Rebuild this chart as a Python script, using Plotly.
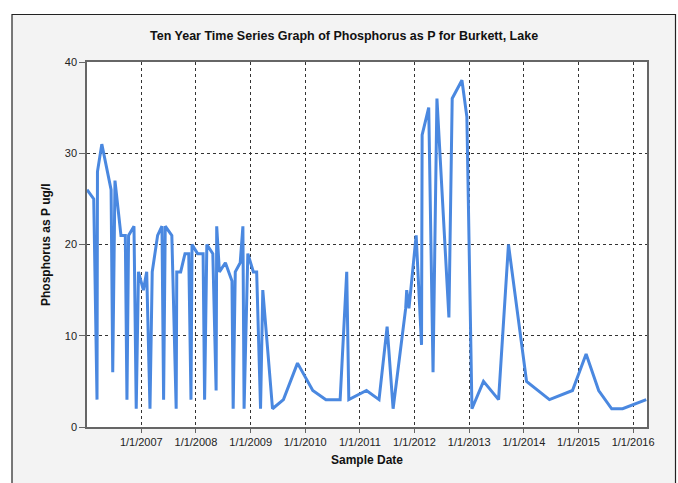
import plotly.graph_objects as go

dates = [
    "2006-01-03", "2006-02-17", "2006-03-11", "2006-03-14", "2006-04-12", "2006-06-13",
    "2006-06-24", "2006-07-09", "2006-08-18", "2006-09-16", "2006-09-27", "2006-10-08",
    "2006-11-13", "2006-11-28", "2006-12-13", "2007-01-15", "2007-02-06", "2007-02-28",
    "2007-03-15", "2007-04-20", "2007-05-19", "2007-05-30", "2007-06-10", "2007-07-24",
    "2007-08-22", "2007-08-26", "2007-09-21", "2007-10-20", "2007-11-14", "2007-11-29",
    "2007-12-06", "2008-01-12", "2008-02-18", "2008-02-28", "2008-03-14", "2008-04-23",
    "2008-05-15", "2008-05-19", "2008-06-06", "2008-07-16", "2008-08-29", "2008-09-06",
    "2008-09-20", "2008-10-23", "2008-11-10", "2008-11-18", "2008-12-13", "2009-01-19",
    "2009-02-10", "2009-03-08", "2009-03-23", "2009-05-27", "2009-08-08", "2009-11-10",
    "2010-02-20", "2010-05-19", "2010-08-22", "2010-10-05", "2010-10-19", "2011-02-14",
    "2011-05-09", "2011-07-02", "2011-08-11", "2011-11-03", "2011-11-10", "2011-11-25",
    "2012-01-12", "2012-02-17", "2012-02-21", "2012-04-05", "2012-05-04", "2012-05-30",
    "2012-08-18", "2012-09-09", "2012-11-13", "2012-12-16", "2013-01-19", "2013-04-06",
    "2013-07-16", "2013-09-20", "2014-01-19", "2014-06-21", "2014-11-22", "2015-02-21",
    "2015-05-16", "2015-08-11", "2015-10-23", "2016-03-29",
]
phosphorus = [
    26, 25, 3, 28, 31, 26,
    6, 27, 21, 21, 3, 21,
    22, 2, 17, 15, 17, 2,
    17, 21, 22, 3, 22, 21,
    2, 17, 17, 19, 19, 3,
    20, 19, 19, 3, 20, 19,
    4, 22, 17, 18, 16, 2,
    17, 18, 22, 2, 19, 17,
    17, 2, 15, 2, 3, 7,
    4, 3, 3, 17, 3, 4,
    3, 11, 2, 13, 15, 13,
    21, 9, 32, 35, 6, 36,
    12, 36, 38, 34, 2, 5,
    3, 20, 5, 3, 4, 8,
    4, 2, 2, 3,
]
tick_dates = ["2007-01-01", "2008-01-01", "2009-01-01", "2010-01-01", "2011-01-01",
              "2012-01-01", "2013-01-01", "2014-01-01", "2015-01-01", "2016-01-01"]
tick_labels = ["1/1/2007", "1/1/2008", "1/1/2009", "1/1/2010", "1/1/2011",
               "1/1/2012", "1/1/2013", "1/1/2014", "1/1/2015", "1/1/2016"]
y_ticks = [0, 10, 20, 30, 40]

title_text = "Ten Year Time Series Graph of Phosphorus as P for Burkett, Lake"
x_title = "Sample Date"
y_title = "Phosphorus as P ug/l"

W, H = 678, 483
L, R, T, B = 87, 647, 62, 427
pw, ph = R - L, B - T

def px(x):
    return (x - L) / pw

def py(y):
    return (B - y) / ph

fig = go.Figure()
fig.add_trace(go.Scatter(
    x=dates, y=phosphorus, mode="lines",
    line=dict(color="#4a88e0", width=3),
    hoverinfo="x+y", showlegend=False,
))

font_main = "Arial, Liberation Sans, sans-serif"

fig.update_layout(
    width=W, height=H,
    margin=dict(l=L, r=W - R, t=T, b=H - B, pad=0),
    paper_bgcolor="white",
    plot_bgcolor="white",
    font=dict(family=font_main, size=11, color="#222222"),
    showlegend=False,
    xaxis=dict(
        type="date",
        range=["2006-01-03", "2016-04-03"],
        tickmode="array", tickvals=tick_dates, ticktext=tick_labels,
        showgrid=True, gridcolor="#333333", griddash="dot", gridwidth=1,
        showline=True, linecolor="#666666", linewidth=1.5, mirror=True,
        ticks="outside", ticklen=4, tickcolor="#666666",
        tickfont=dict(size=11, color="#222222"),
        zeroline=False, fixedrange=True,
    ),
    yaxis=dict(
        range=[0, 40],
        tickmode="array", tickvals=y_ticks,
        showgrid=True, gridcolor="#333333", griddash="dot", gridwidth=1,
        showline=True, linecolor="#666666", linewidth=1.5, mirror=True,
        ticks="outside", ticklen=6, tickcolor="#666666",
        tickfont=dict(size=11, color="#222222"),
        zeroline=False, fixedrange=True,
    ),
    shapes=[
        dict(type="rect", xref="paper", yref="paper", layer="below",
             x0=px(12), x1=px(675.5), y0=py(520), y1=py(14.5),
             fillcolor="#f3f3f3", line=dict(color="#222222", width=1.2)),
        dict(type="rect", xref="paper", yref="paper", layer="below",
             x0=0, x1=1, y0=0, y1=1,
             fillcolor="white", line=dict(width=0)),
    ],
    annotations=[
        dict(text="<b>" + title_text + "</b>", xref="paper", yref="paper",
             x=px(343.5), y=py(36), xanchor="center", yanchor="middle",
             showarrow=False, font=dict(size=12.5, color="#111111", family=font_main)),
        dict(text="<b>" + x_title + "</b>", xref="paper", yref="paper",
             x=px(367), y=py(460), xanchor="center", yanchor="middle",
             showarrow=False, font=dict(size=12, color="#111111", family=font_main)),
        dict(text="<b>" + y_title + "</b>", xref="paper", yref="paper",
             x=px(46), y=py(245), xanchor="center", yanchor="middle", textangle=-90,
             showarrow=False, font=dict(size=12, color="#111111", family=font_main)),
    ],
)

fig.write_html(
    "out.html",
    config={"displayModeBar": False},
    post_script="document.body.style.margin='0';document.body.style.overflow='hidden';",
)
